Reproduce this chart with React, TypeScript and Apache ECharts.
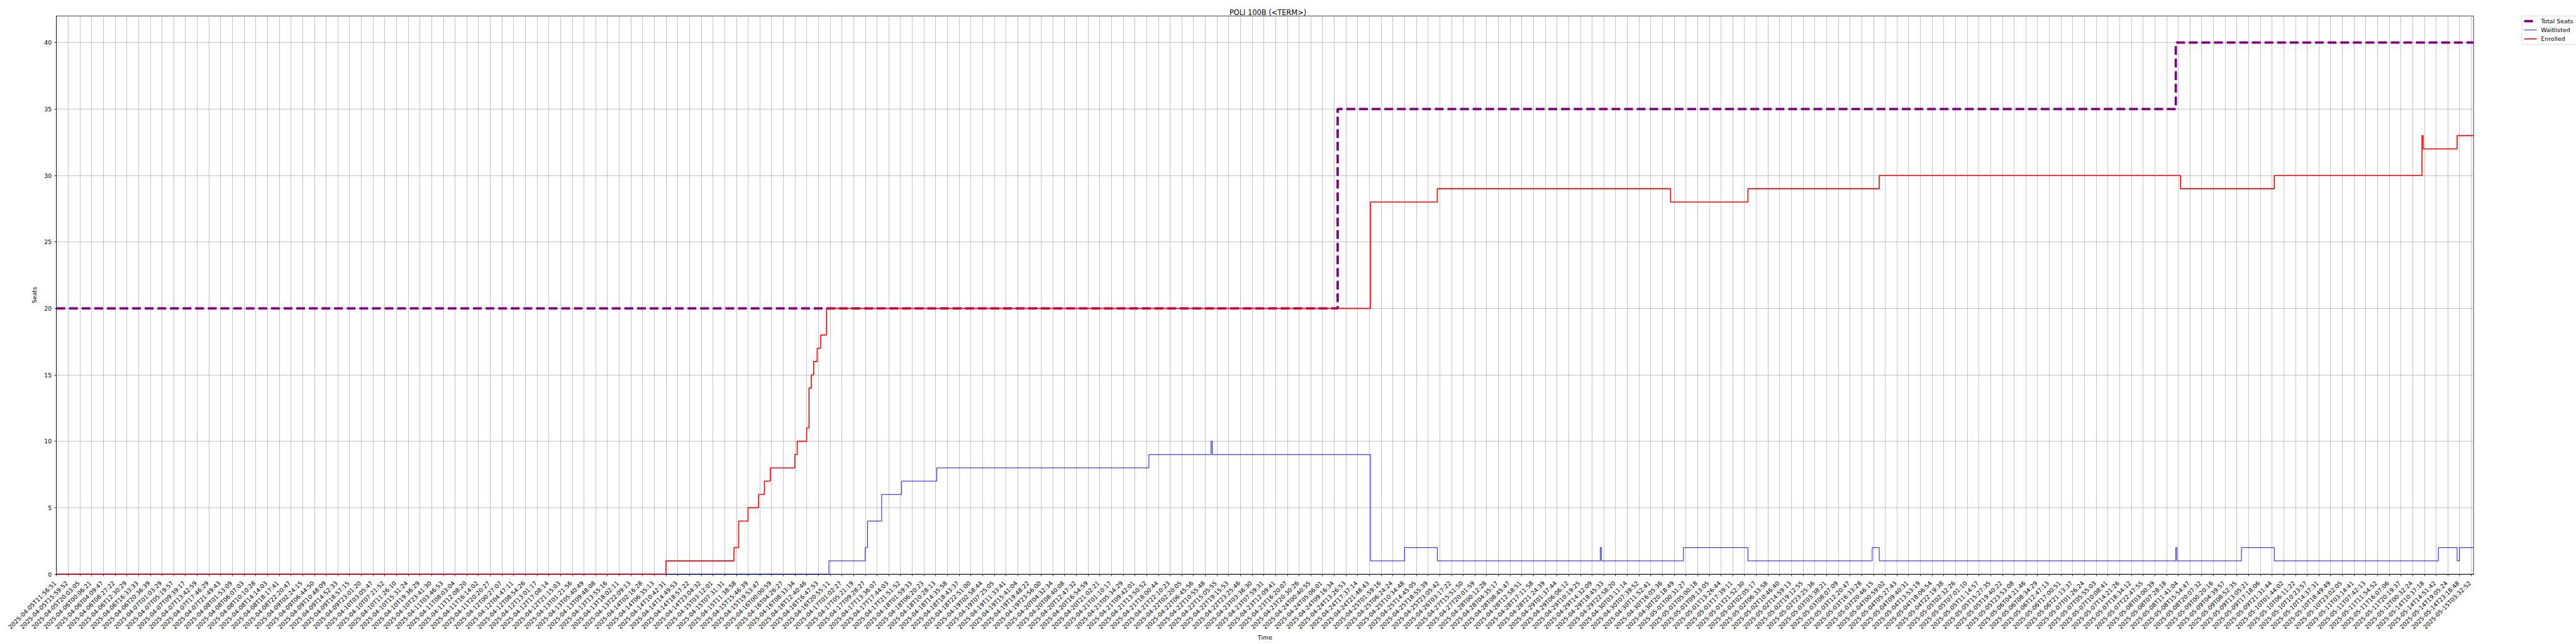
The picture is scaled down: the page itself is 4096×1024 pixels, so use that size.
import React, { useEffect, useRef } from 'react';
import * as echarts from 'echarts';

// ---------- data ----------
// One label per x tick (tick index = position on the time axis).
// Entries 124..190 could not be read at the available resolution and are estimates.
const timeLabels: string[] = [
  '2025-04-05T11:56:51', '2025-04-05T15:59:52', '2025-04-05T20:03:05', '2025-04-06T00:06:21', '2025-04-06T04:09:47',
  '2025-04-06T08:27:22', '2025-04-06T12:30:29', '2025-04-06T16:33:33', '2025-04-06T20:36:39', '2025-04-07T01:03:29',
  '2025-04-07T05:19:57', '2025-04-07T09:39:17', '2025-04-07T13:42:59', '2025-04-07T17:46:29', '2025-04-07T21:49:43',
  '2025-04-08T01:53:09', '2025-04-08T06:07:03', '2025-04-08T10:10:28', '2025-04-08T14:14:03', '2025-04-08T18:17:41',
  '2025-04-08T22:20:47', '2025-04-09T02:24:15', '2025-04-09T06:44:50', '2025-04-09T10:48:09', '2025-04-09T14:52:33',
  '2025-04-09T18:57:15', '2025-04-09T23:01:20', '2025-04-10T03:05:47', '2025-04-10T07:21:52', '2025-04-10T11:26:10',
  '2025-04-10T15:31:24', '2025-04-10T19:36:29', '2025-04-10T23:41:30', '2025-04-11T03:46:53', '2025-04-11T08:03:04',
  '2025-04-11T12:08:20', '2025-04-11T16:14:02', '2025-04-11T20:20:27', '2025-04-12T00:27:07', '2025-04-12T04:47:11',
  '2025-04-12T08:54:26', '2025-04-12T13:01:17', '2025-04-12T17:08:14', '2025-04-12T21:15:03', '2025-04-13T01:21:56',
  '2025-04-13T05:40:49', '2025-04-13T09:48:08', '2025-04-13T13:55:16', '2025-04-13T18:02:11', '2025-04-13T22:09:13',
  '2025-04-14T02:16:28', '2025-04-14T06:35:13', '2025-04-14T10:42:31', '2025-04-14T14:49:53', '2025-04-14T18:57:22',
  '2025-04-14T23:04:32', '2025-04-15T03:12:01', '2025-04-15T07:31:31', '2025-04-15T11:38:58', '2025-04-15T15:46:39',
  '2025-04-15T19:53:47', '2025-04-16T00:00:59', '2025-04-16T04:26:27', '2025-04-16T08:33:34', '2025-04-16T12:40:46',
  '2025-04-16T16:47:53', '2025-04-16T20:55:11', '2025-04-17T01:02:27', '2025-04-17T05:21:19', '2025-04-17T09:28:27',
  '2025-04-17T13:36:07', '2025-04-17T17:44:03', '2025-04-17T21:51:52', '2025-04-18T01:59:33', '2025-04-18T06:20:23',
  '2025-04-18T10:28:13', '2025-04-18T14:35:58', '2025-04-18T18:43:37', '2025-04-18T22:51:00', '2025-04-19T02:58:44',
  '2025-04-19T07:25:05', '2025-04-19T11:33:41', '2025-04-19T15:41:04', '2025-04-19T19:48:22', '2025-04-19T23:56:00',
  '2025-04-20T04:32:34', '2025-04-20T08:40:08', '2025-04-20T12:47:32', '2025-04-20T16:54:59', '2025-04-20T21:02:21',
  '2025-04-21T01:10:17', '2025-04-21T05:34:29', '2025-04-21T09:42:01', '2025-04-21T13:50:52', '2025-04-21T18:00:44',
  '2025-04-21T22:10:23', '2025-04-22T02:20:05', '2025-04-22T06:45:56', '2025-04-22T10:55:48', '2025-04-22T15:05:55',
  '2025-04-22T19:15:53', '2025-04-22T23:25:46', '2025-04-23T03:36:30', '2025-04-23T07:59:31', '2025-04-23T12:09:41',
  '2025-04-23T16:20:07', '2025-04-23T20:30:26', '2025-04-24T00:40:55', '2025-04-24T05:06:01', '2025-04-24T09:16:34',
  '2025-04-24T13:26:53', '2025-04-24T17:37:14', '2025-04-24T21:48:43', '2025-04-25T01:59:16', '2025-04-25T06:24:24',
  '2025-04-25T10:34:48', '2025-04-25T14:45:05', '2025-04-25T18:55:39', '2025-04-25T23:05:42', '2025-04-26T03:17:22',
  '2025-04-27T15:51:50', '2025-04-27T20:01:59', '2025-04-28T00:12:28', '2025-04-28T04:35:17',
  '2025-04-28T08:45:47', '2025-04-28T12:58:51', '2025-04-28T17:11:58', '2025-04-28T21:24:39', '2025-04-29T01:37:44',
  '2025-04-29T06:06:12', '2025-04-29T10:19:25', '2025-04-29T14:32:09', '2025-04-29T18:45:33', '2025-04-29T22:58:20',
  '2025-04-30T03:11:14', '2025-04-30T07:39:52', '2025-04-30T11:52:41', '2025-04-30T16:05:36', '2025-04-30T20:18:49',
  '2025-05-01T00:31:27', '2025-05-01T05:00:18', '2025-05-01T09:13:05', '2025-05-01T13:26:44', '2025-05-01T17:39:11',
  '2025-05-01T21:52:30', '2025-05-02T02:05:17', '2025-05-02T06:33:58', '2025-05-02T10:46:40', '2025-05-02T14:59:13',
  '2025-05-02T19:12:55', '2025-05-02T23:25:36', '2025-05-03T03:38:21', '2025-05-03T08:07:09', '2025-05-03T12:20:47',
  '2025-05-03T16:33:28', '2025-05-03T20:46:15', '2025-05-04T00:59:02', '2025-05-04T05:27:43', '2025-05-04T09:40:31',
  '2025-05-04T13:53:19', '2025-05-04T18:06:54', '2025-05-04T22:19:38', '2025-05-05T02:32:26', '2025-05-05T07:01:10',
  '2025-05-05T11:14:57', '2025-05-05T15:27:35', '2025-05-05T19:40:22', '2025-05-05T23:53:08', '2025-05-06T04:21:46',
  '2025-05-06T08:34:29', '2025-05-06T12:47:13', '2025-05-06T17:00:51', '2025-05-06T21:13:37', '2025-05-07T01:26:24',
  '2025-05-07T05:55:03', '2025-05-07T10:08:41', '2025-05-07T14:21:26', '2025-05-07T18:34:12', '2025-05-07T22:47:55',
  '2025-05-08T03:00:39', '2025-05-08T07:28:18', '2025-05-08T11:41:04', '2025-05-08T15:54:47', '2025-05-08T20:07:32',
  '2025-05-09T00:20:16', '2025-05-09T04:39:57', '2025-05-09T08:52:35', '2025-05-09T13:05:21', '2025-05-09T17:18:06',
  '2025-05-09T21:31:44',
  '2025-05-10T01:44:02', '2025-05-10T06:11:22', '2025-05-10T10:23:57', '2025-05-10T14:37:31', '2025-05-10T18:49:49',
  '2025-05-10T23:02:05', '2025-05-11T03:14:41', '2025-05-11T07:42:13', '2025-05-11T11:54:52', '2025-05-11T16:07:06',
  '2025-05-11T20:19:37', '2025-05-12T00:32:24', '2025-05-14T10:37:18', '2025-05-14T14:51:42', '2025-05-14T19:05:24',
  '2025-05-14T23:18:48', '2025-05-15T03:32:52',
];

const seatTicks = [0, 5, 10, 15, 20, 25, 30, 35, 40];

// [position on the time axis (tick index units), value held from here on]
const totalSeatsSteps: [number, number][] = [[0, 20], [109.3, 35], [180.8, 40], [206.2, 40]];

const waitlistedSteps: [number, number][] = [
  [0, 0], [65.9, 1], [69.0, 2], [69.2, 4], [70.4, 6], [72.1, 7], [75.1, 8], [93.2, 9], [98.5, 10], [98.6, 9],
  [112.1, 1], [115.0, 2], [117.8, 1], [131.7, 2], [131.8, 1], [138.8, 2], [144.3, 1], [154.9, 2], [155.5, 1],
  [180.8, 2], [180.9, 1], [186.4, 2], [189.2, 1], [203.2, 2], [204.8, 1], [205.0, 2], [206.2, 2],
];

const enrolledSteps: [number, number][] = [
  [0, 0], [52.0, 1], [57.8, 2], [58.2, 4], [59.0, 5], [59.9, 6], [60.4, 7], [60.9, 8], [63.0, 9], [63.2, 10],
  [64.0, 11], [64.2, 14], [64.4, 15], [64.6, 16], [64.9, 17], [65.2, 18], [65.7, 20], [112.1, 28], [117.8, 29],
  [137.7, 28], [144.3, 29], [155.5, 30], [181.2, 29], [189.2, 30], [201.8, 33], [201.9, 32], [204.8, 33], [206.2, 33],
];

const X_MAX = 206.2;
const Y_MAX = 42;

// ---------- styles ----------
const FONT = 'DejaVu Sans';
const FS = 9.47;
const GRID_COLOR = '#b0b0b0';
const THIN = 0.76;
const TOTAL_STYLE = { color: '#800080', width: 3.79, dash: [14.0, 6.07] };
const WAIT_STYLE = { color: '#0000ff', width: 0.95 };
const ENR_STYLE = { color: '#ff0000', width: 1.6 };

const GRID = { left: 89.7, right: 162.9, top: 25.4, bottom: 111 };

export default function App() {
  const ref = useRef<HTMLDivElement>(null);

  useEffect(() => {
    if (!ref.current) return;
    const chart = echarts.init(ref.current, undefined, { renderer: 'svg' });
    const tickIdx = timeLabels.map((_, i) => i);

    const legendX = 4010;
    const legendTop = 25.4;
    const rows = [33.6, 47.7, 61.9];
    const hx1 = 4013.6;
    const hx2 = 4033.6;
    const tx = 4040.2;

    chart.setOption({
      animation: false,
      backgroundColor: '#ffffff',
      title: {
        text: 'POLI 100B (<TERM>)',
        left: 2011,
        top: 9,
        textAlign: 'center',
        textStyle: { fontFamily: FONT, fontSize: 11.4, fontWeight: 'normal', color: '#000' },
      },
      grid: {
        ...GRID,
        show: true,
        borderColor: '#000',
        borderWidth: THIN,
        backgroundColor: 'transparent',
        containLabel: false,
      },
      xAxis: {
        type: 'value',
        min: 0,
        max: X_MAX,
        name: 'Time',
        nameLocation: 'middle',
        nameGap: 88,
        nameTextStyle: { fontFamily: FONT, fontSize: FS, color: '#000' },
        axisLine: { show: true, onZero: false, lineStyle: { color: '#000', width: THIN } },
        axisTick: { show: true, length: 3.3, customValues: tickIdx, lineStyle: { color: '#000', width: THIN } },
        axisLabel: {
          customValues: tickIdx,
          rotate: 45,
          margin: 10.5,
          padding: [0, 2.8, 5.5, 0],
          fontFamily: FONT,
          fontSize: FS,
          color: '#000',
          formatter: (v: number) => {
            const i = Math.round(v);
            return Math.abs(v - i) < 1e-6 && timeLabels[i] ? timeLabels[i] : '';
          },
        },
        splitLine: { show: true, lineStyle: { color: GRID_COLOR, width: THIN } },
      },
      yAxis: {
        type: 'value',
        min: 0,
        max: Y_MAX,
        name: 'Seats',
        nameLocation: 'middle',
        nameRotate: 90,
        nameGap: 23,
        nameTextStyle: { fontFamily: FONT, fontSize: FS, color: '#000' },
        axisLine: { show: true, onZero: false, lineStyle: { color: '#000', width: THIN } },
        axisTick: { show: true, length: 3.3, customValues: seatTicks, lineStyle: { color: '#000', width: THIN } },
        axisLabel: {
          customValues: seatTicks,
          margin: 7.4,
          fontFamily: FONT,
          fontSize: FS,
          color: '#000',
        },
        splitLine: { show: true, lineStyle: { color: GRID_COLOR, width: THIN } },
      },
      series: [
        {
          name: 'Total Seats',
          type: 'line',
          step: 'end',
          data: totalSeatsSteps,
          symbol: 'none',
          clip: true,
          lineStyle: { color: TOTAL_STYLE.color, width: TOTAL_STYLE.width, type: TOTAL_STYLE.dash, cap: 'butt' },
        },
        {
          name: 'Waitlisted',
          type: 'line',
          step: 'end',
          data: waitlistedSteps,
          symbol: 'none',
          clip: true,
          lineStyle: { color: WAIT_STYLE.color, width: WAIT_STYLE.width },
        },
        {
          name: 'Enrolled',
          type: 'line',
          step: 'end',
          data: enrolledSteps,
          symbol: 'none',
          clip: true,
          lineStyle: { color: ENR_STYLE.color, width: ENR_STYLE.width },
        },
      ],
      graphic: [
        {
          type: 'rect',
          z: 100,
          shape: { x: legendX, y: legendTop, width: 110, height: 45.5, r: 2 },
          style: { fill: 'rgba(255,255,255,0.8)', stroke: '#cccccc', lineWidth: THIN },
        },
        {
          type: 'line', z: 101,
          shape: { x1: hx1, y1: rows[0], x2: hx2, y2: rows[0] },
          style: { stroke: TOTAL_STYLE.color, lineWidth: TOTAL_STYLE.width, lineDash: TOTAL_STYLE.dash },
        },
        {
          type: 'line', z: 101,
          shape: { x1: hx1, y1: rows[1], x2: hx2, y2: rows[1] },
          style: { stroke: WAIT_STYLE.color, lineWidth: WAIT_STYLE.width },
        },
        {
          type: 'line', z: 101,
          shape: { x1: hx1, y1: rows[2], x2: hx2, y2: rows[2] },
          style: { stroke: ENR_STYLE.color, lineWidth: ENR_STYLE.width },
        },
        ...['Total Seats', 'Waitlisted', 'Enrolled'].map((t, i) => ({
          type: 'text',
          z: 101,
          style: {
            text: t, x: tx, y: rows[i], fontFamily: FONT, fontSize: FS, fill: '#000',
            verticalAlign: 'middle', align: 'left',
          },
        })),
      ],
    });

    return () => chart.dispose();
  }, []);

  return (
    <div
      ref={ref}
      style={{ position: 'fixed', left: 0, top: 0, width: 4096, height: 1024, background: '#fff' }}
    />
  );
}
